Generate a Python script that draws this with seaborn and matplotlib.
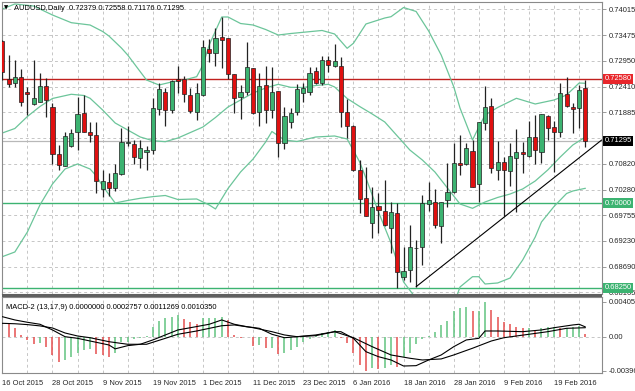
import numpy as np
import pandas as pd
import matplotlib
matplotlib.use("Agg")
import matplotlib.pyplot as plt
import matplotlib.transforms as mtransforms
from matplotlib.patches import Rectangle
import seaborn as sns

# ---- candle data (AUDUSD daily, bar index 0 = 16 Oct 2015) ----
OPEN = [0.73359, 0.72573, 0.72484, 0.72614, 0.72305, 0.72050, 0.72104, 0.72428, 0.72000, 0.71021,
        0.70779, 0.71187, 0.71483, 0.71863, 0.71483, 0.71415, 0.70291, 0.70449, 0.70312, 0.70601,
        0.71259, 0.71228, 0.70932, 0.71073, 0.71104, 0.71946, 0.72298, 0.71932, 0.72579, 0.72573,
        0.72242, 0.71897, 0.72242, 0.73187, 0.73104, 0.73436, 0.73415, 0.72676, 0.72194, 0.72310,
        0.72794, 0.71884, 0.72449, 0.71932, 0.72331, 0.71242, 0.71690, 0.71884, 0.72290, 0.72310,
        0.72745, 0.72484, 0.72966, 0.72842, 0.72842, 0.71897, 0.71607, 0.70691, 0.70105, 0.69588,
        0.69946, 0.69849, 0.69484, 0.69808, 0.68471, 0.68622, 0.69067, 0.69091, 0.69987, 0.70022,
        0.69532, 0.70070, 0.70242, 0.70829, 0.70815, 0.71083, 0.70401, 0.71657, 0.72015, 0.70691,
        0.70850, 0.70676, 0.70932, 0.71069, 0.70987, 0.71380, 0.71057, 0.71808, 0.71574, 0.71483,
        0.72256, 0.72000, 0.71967, 0.72379]
HIGH = [0.73380, 0.73070, 0.72966, 0.72780, 0.72408, 0.72966, 0.72703, 0.72593, 0.72070, 0.71208,
        0.71483, 0.71532, 0.72194, 0.72242, 0.71690, 0.71690, 0.70691, 0.70622, 0.70815, 0.71553,
        0.71601, 0.71311, 0.71311, 0.71187, 0.72174, 0.72484, 0.72381, 0.72552, 0.72842, 0.72635,
        0.72381, 0.72497, 0.73380, 0.73394, 0.73621, 0.73861, 0.73421, 0.72676, 0.72449, 0.73345,
        0.72800, 0.72690, 0.72842, 0.72815, 0.72335, 0.72000, 0.71967, 0.72469, 0.72484, 0.72827,
        0.72827, 0.73049, 0.73049, 0.73297, 0.73021, 0.72153, 0.71611, 0.70897, 0.70759, 0.70345,
        0.70221, 0.70484, 0.70035, 0.70015, 0.69104, 0.69552, 0.69242, 0.70173, 0.70449, 0.70291,
        0.70028, 0.70829, 0.71255, 0.71414, 0.71243, 0.71311, 0.71683, 0.72428, 0.72174, 0.71297,
        0.70966, 0.71255, 0.71532, 0.71276, 0.71711, 0.71828, 0.71849, 0.71828, 0.71711, 0.72484,
        0.72608, 0.72070, 0.72449, 0.72558]
LOW = [0.72552, 0.72408, 0.72408, 0.72015, 0.71828, 0.72036, 0.72098, 0.71793, 0.70808, 0.70691,
       0.70773, 0.71166, 0.71104, 0.71477, 0.71276, 0.70221, 0.70139, 0.70153, 0.70263, 0.70597,
       0.71187, 0.70815, 0.70726, 0.70691, 0.71015, 0.71828, 0.71601, 0.71863, 0.72277, 0.72104,
       0.71863, 0.71725, 0.72222, 0.72931, 0.72842, 0.72794, 0.72566, 0.71863, 0.71739, 0.72242,
       0.71849, 0.71601, 0.71656, 0.71760, 0.70965, 0.71118, 0.71553, 0.71828, 0.72104, 0.72242,
       0.72469, 0.72449, 0.72724, 0.72831, 0.71586, 0.71346, 0.70670, 0.69795, 0.69729, 0.69278,
       0.69380, 0.69532, 0.68967, 0.68243, 0.68415, 0.68380, 0.68276, 0.68725, 0.69849, 0.69484,
       0.69174, 0.69932, 0.70208, 0.70587, 0.70794, 0.70339, 0.70035, 0.71518, 0.70635, 0.70484,
       0.69739, 0.70359, 0.69828, 0.70622, 0.70966, 0.70815, 0.70829, 0.71311, 0.70655, 0.71367,
       0.72000, 0.71450, 0.71553, 0.71176]
CLOSE = [0.72718, 0.72470, 0.72608, 0.72098, 0.72263, 0.72187, 0.72434, 0.72139, 0.71015, 0.70784,
         0.71394, 0.71462, 0.71849, 0.71483, 0.71415, 0.70469, 0.70463, 0.70312, 0.70622, 0.71263,
         0.71270, 0.70965, 0.71139, 0.71104, 0.71967, 0.72360, 0.71932, 0.72538, 0.72538, 0.72263,
         0.71918, 0.72277, 0.73241, 0.73104, 0.73415, 0.73380, 0.72676, 0.72174, 0.72310, 0.72815,
         0.71863, 0.72428, 0.71932, 0.72298, 0.71242, 0.71815, 0.71877, 0.72360, 0.72381, 0.72703,
         0.72484, 0.72966, 0.72862, 0.72945, 0.71897, 0.71601, 0.70691, 0.70084, 0.69739, 0.69932,
         0.69863, 0.69553, 0.69828, 0.68587, 0.68608, 0.69091, 0.69077, 0.70002, 0.70070, 0.69553,
         0.70022, 0.70242, 0.70841, 0.70794, 0.71139, 0.70345, 0.71677, 0.71987, 0.70726, 0.70850,
         0.70691, 0.70987, 0.71069, 0.71015, 0.71380, 0.71104, 0.71849, 0.71553, 0.71483, 0.72277,
         0.72015, 0.71952, 0.72346, 0.71295]

# ---- bollinger bands, read at sample bars ----
UPPER_BARS = [0, 2, 5, 8, 11, 14, 16, 17, 19, 20, 22, 23, 25, 27, 29, 31, 32, 33, 35, 36,
              38, 40, 42, 44, 46, 49, 51, 53, 55, 56, 58, 61, 62, 64, 66, 68, 70, 72, 73, 75,
              76, 77, 79, 82, 85, 88, 90, 92, 93]
UPPER = [0.74021, 0.74125, 0.74083, 0.73897, 0.73738, 0.73690, 0.73556, 0.73463, 0.73214, 0.73069,
         0.72724, 0.72552, 0.72449, 0.72511, 0.72552, 0.72621, 0.72863, 0.73277, 0.73856, 0.73856,
         0.73721, 0.73690, 0.73597, 0.73483, 0.73514, 0.73552, 0.73577, 0.73504, 0.73208, 0.73312,
         0.73711, 0.73835, 0.73862, 0.74052, 0.73970, 0.73566, 0.73069, 0.72414, 0.71973, 0.71311,
         0.71580, 0.71828, 0.71983, 0.72174, 0.72056, 0.72139, 0.72242, 0.72490, 0.72484]
MID_BARS = [0, 2, 4, 6, 8, 11, 13, 14, 16, 18, 20, 22, 24, 26, 28, 30, 32, 34, 36, 38,
            40, 42, 44, 46, 48, 50, 52, 53, 55, 57, 59, 61, 63, 65, 67, 69, 71, 73, 75, 77,
            79, 81, 83, 85, 87, 89, 91, 93]
MID = [0.71456, 0.71549, 0.71797, 0.72004, 0.72170, 0.72257, 0.72232, 0.72174, 0.71932, 0.71663,
       0.71518, 0.71373, 0.71297, 0.71276, 0.71352, 0.71466, 0.71580, 0.71777, 0.71994, 0.72139,
       0.72283, 0.72387, 0.72463, 0.72401, 0.72397, 0.72439, 0.72463, 0.72408, 0.72170, 0.72004,
       0.71849, 0.71684, 0.71394, 0.71104, 0.70897, 0.70649, 0.70318, 0.69987, 0.69898, 0.70029,
       0.70122, 0.70194, 0.70298, 0.70463, 0.70691, 0.70960, 0.71208, 0.71373]
LOW_BARS = [0, 2, 4, 6, 8, 10, 12, 14, 15, 16, 18, 20, 22, 24, 26, 28, 31, 33, 34, 36,
            38, 40, 42, 43, 45, 47, 50, 53, 55, 57, 58, 60, 62, 64, 66, 68, 70, 72, 73, 75,
            76, 77, 79, 81, 83, 85, 86, 88, 90, 91, 93]
LOWER = [0.68897, 0.68994, 0.69408, 0.69967, 0.70401, 0.70711, 0.70815, 0.70711, 0.70566, 0.70359,
         0.70008, 0.70060, 0.70105, 0.70139, 0.70163, 0.70080, 0.70091, 0.69967, 0.69884, 0.70308,
         0.70649, 0.70918, 0.71270, 0.71487, 0.71311, 0.71280, 0.71373, 0.71394, 0.71332, 0.70856,
         0.70525, 0.69822, 0.69180, 0.68374, 0.68032, 0.67981, 0.67898, 0.67898, 0.68270, 0.68483,
         0.68483, 0.68332, 0.68353, 0.68456, 0.68829, 0.69304, 0.69615, 0.69936, 0.70204, 0.70256,
         0.70312]

# ---- MACD-2 (13,17,9) ----
HIST = [0.00259, 0.00143, 0.00097, 0.00020, -0.00039, -0.00085, -0.00077, -0.00116, -0.00212, -0.00290,
        -0.00270, -0.00232, -0.00193, -0.00155, -0.00143, -0.00205, -0.00212, -0.00232, -0.00193, -0.00066,
        -0.00058, -0.00027, -0.00010, 0.00005, 0.00116, 0.00182, 0.00220, 0.00232, 0.00251, 0.00210,
        0.00166, 0.00143, 0.00212, 0.00220, 0.00222, 0.00224, 0.00193, 0.00020, -0.00010, -0.00005,
        -0.00104, -0.00097, -0.00135, -0.00128, -0.00200, -0.00193, -0.00155, -0.00116, -0.00066, -0.00030,
        0.00010, 0.00039, 0.00050, 0.00077, -0.00010, -0.00077, -0.00193, -0.00328, -0.00396, -0.00367,
        -0.00375, -0.00359, -0.00328, -0.00348, -0.00232, -0.00193, -0.00089, -0.00027, 0.00010, 0.00058,
        0.00135, 0.00185, 0.00298, 0.00336, 0.00348, 0.00298, 0.00298, 0.00406, 0.00309, 0.00232,
        0.00174, 0.00143, 0.00116, 0.00097, 0.00097, 0.00077, 0.00104, 0.00116, 0.00116, 0.00097,
        0.00104, 0.00116, 0.00127, 0.00028]
MACD_BARS = [0, 2, 4, 6, 8, 10, 12, 14, 17, 18, 20, 22, 24, 26, 28, 30, 33, 35, 37, 39,
             41, 43, 45, 47, 50, 53, 54, 56, 58, 60, 62, 64, 66, 68, 70, 72, 74, 76, 77, 79,
             83, 86, 88, 91, 92, 93]
MACD = [0.00232, 0.00194, 0.00167, 0.00144, 0.00078, 0.0, -0.00019, -0.0005, -0.00096, -0.00141,
        -0.00104, -0.00088, -0.00038, 0.0002, 0.00078, 0.00104, 0.00144, 0.00194, 0.00144, 0.00116,
        0.00097, 0.00028, -0.00012, 0.0, 0.0002, 0.00058, 0.00058, -0.00019, -0.00174, -0.00232,
        -0.0027, -0.0034, -0.00336, -0.0027, -0.00212, -0.00116, -0.00038, -0.00019, 0.00066, 0.00066,
        0.00058, 0.00078, 0.00104, 0.00136, 0.00144, 0.00113]
SIG_BARS = [0, 2, 4, 6, 8, 10, 12, 14, 17, 20, 23, 26, 28, 31, 35, 37, 40, 43, 45, 47,
            50, 53, 56, 59, 62, 65, 67, 70, 72, 75, 78, 80, 84, 87, 90, 93]
SIGNAL = [0.00155, 0.00150, 0.00140, 0.00125, 0.00101, 0.00043, 0.00008, -0.00012, -0.00058, -0.00088,
          -0.00088, -0.00019, 0.00028, 0.00066, 0.00127, 0.00136, 0.00104, 0.00058, 0.0002, 0.0,
          0.00012, 0.00058, -0.00012, -0.00116, -0.00212, -0.0025, -0.0027, -0.00258, -0.00212, -0.00134,
          -0.0005, -0.00012, 0.00028, 0.00058, 0.00097, 0.00104]

# ---- axis labels / levels ----
DATE_BARS = [0, 8, 16, 24, 32, 40, 48, 56, 64, 72, 80, 88]
DATE_LABELS = ["16 Oct 2015", "28 Oct 2015", "9 Nov 2015", "19 Nov 2015", "1 Dec 2015", "11 Dec 2015",
               "23 Dec 2015", "6 Jan 2016", "18 Jan 2016", "28 Jan 2016", "9 Feb 2016", "19 Feb 2016"]
PRICE_TICKS = [0.74015, 0.73475, 0.72950, 0.72410, 0.71885, 0.71345, 0.70820, 0.70280,
               0.69755, 0.69230, 0.68690, 0.68165]
HIDDEN_TICK = 0.71345   # sits under the last-price box
RESIST = 0.72580
SUPPORTS = [0.70000, 0.68250]
LAST_PRICE = 0.71295
TREND_BARS = [66, 95.6]
TREND_PRICES = [0.68276, 0.71311]
MACD_TICKS = [0.004056, 0.0, -0.003965]
MACD_TICK_LABELS = ["0.004056", "0.00", "-0.003965"]

UP_COL = "#3cb371"
DOWN_COL = "#e01010"
BAND_COL = "#6cc59a"
GRID_COL = "#c6c6c6"
FRAME_COL = "#8a8a8a"
FS = 5.4

sns.set_style("white")
plt.rcParams["font.family"] = ["Liberation Sans", "DejaVu Sans"]

fig = plt.figure(figsize=(6.35, 3.91), dpi=100)
ax = fig.add_axes([2 / 635, 1 - 294 / 391, 600 / 635, 292 / 391])
ax2 = fig.add_axes([2 / 635, 1 - 373 / 391, 600 / 635, 76 / 391])

XLIM = (-0.05, 95.65)

# ---------------- main price panel ----------------
df = pd.DataFrame({"bar": np.arange(len(OPEN)), "open": OPEN, "high": HIGH,
                   "low": LOW, "close": CLOSE})
df["up"] = df["close"] >= df["open"]
body_lo = df[["open", "close"]].min(axis=1)
body_h = (df["close"] - df["open"]).abs().clip(lower=0.00003)

for gb in range(4, 96, 4):
    ax.axvline(gb, color=GRID_COL, lw=0.7, ls=(0, (3, 3)), zorder=0)
for t in PRICE_TICKS:
    ax.axhline(t, color=GRID_COL, lw=0.7, ls=(0, (3, 3)), zorder=0)

ax.axhline(LAST_PRICE, color="#b8b8b8", lw=0.9, zorder=1)
ax.axhline(RESIST, color="#c0201e", lw=1.0, zorder=1)
for s in SUPPORTS:
    ax.axhline(s, color=UP_COL, lw=1.0, zorder=1)

for xs, ys in [(UPPER_BARS, UPPER), (MID_BARS, MID), (LOW_BARS, LOWER)]:
    sns.lineplot(x=xs, y=ys, ax=ax, color=BAND_COL, lw=0.9, zorder=2)

ax.plot(TREND_BARS, TREND_PRICES, color="black", lw=0.8, zorder=5)

ax.vlines(df["bar"], df["low"], df["high"], color="#222222", lw=0.9, zorder=3)
ax.bar(df["bar"], body_h, bottom=body_lo, width=0.66,
       color=np.where(df["up"], UP_COL, DOWN_COL), edgecolor="#202020",
       linewidth=0.5, zorder=4)

ax.set_xlim(*XLIM)
ax.set_ylim(0.68125, 0.74166)
ax.yaxis.tick_right()
ax.set_yticks(PRICE_TICKS)
ax.set_yticklabels(["" if t == HIDDEN_TICK else f"{t:.5f}" for t in PRICE_TICKS])
ax.tick_params(axis="y", length=3, width=0.6, color=FRAME_COL, pad=2, labelsize=FS)
ax.tick_params(axis="x", length=0, labelbottom=False)
ax.set_xlabel("")
ax.set_ylabel("")

ytrans = mtransforms.blended_transform_factory(ax.transAxes, ax.transData)
for val, col in [(RESIST, "#e8262b"), (LAST_PRICE, "#000000"),
                 (SUPPORTS[0], UP_COL), (SUPPORTS[1], UP_COL)]:
    ax.text(1.004, val, f"{val:.5f}", transform=ytrans, ha="left", va="center",
            fontsize=FS, color="white", clip_on=False, zorder=10,
            bbox=dict(boxstyle="square,pad=0.2", fc=col, ec="none"))

ax.text(0.004, 0.979, "\u25bc", transform=ax.transAxes, fontsize=4, color="black",
        ha="left", va="center", family=["DejaVu Sans"])
ax.text(0.02, 0.979, "AUDUSD,Daily  0.72379 0.72558 0.71176 0.71295", transform=ax.transAxes,
        fontsize=FS, color="black", ha="left", va="center")

# ---------------- MACD panel ----------------
for gb in range(4, 96, 4):
    ax2.axvline(gb, color=GRID_COL, lw=0.7, ls=(0, (3, 3)), zorder=0)
ax2.axhline(0, color=GRID_COL, lw=0.7, ls=(0, (3, 3)), zorder=0)

hist = pd.Series(HIST)
hist_up = hist.diff().fillna(1) >= 0
ax2.vlines(np.arange(len(HIST)), 0, HIST, colors=np.where(hist_up, "#62c480", "#e5504f"),
           lw=1.1, zorder=2)
sns.lineplot(x=MACD_BARS, y=MACD, ax=ax2, color="black", lw=0.8, zorder=3)
sns.lineplot(x=SIG_BARS, y=SIGNAL, ax=ax2, color="black", lw=0.8, zorder=3)

ax2.set_xlim(*XLIM)
ax2.set_ylim(-0.00421, 0.0046)
ax2.yaxis.tick_right()
ax2.set_yticks(MACD_TICKS)
ax2.set_yticklabels(MACD_TICK_LABELS)
ax2.tick_params(axis="y", length=3, width=0.6, color=FRAME_COL, pad=2, labelsize=FS)
ax2.set_xticks(DATE_BARS)
ax2.set_xticklabels(DATE_LABELS, ha="left")
ax2.tick_params(axis="x", length=3, width=0.6, color=FRAME_COL, pad=2, labelsize=FS)
ax2.set_xlabel("")
ax2.set_ylabel("")
ax2.text(0.006, 0.86, "MACD-2 (13,17,9) 0.0000000 0.0002757 0.0011269 0.0010350",
         transform=ax2.transAxes, fontsize=FS, color="black", ha="left", va="center")

for a in (ax, ax2):
    for sp in a.spines.values():
        sp.set_color(FRAME_COL)
        sp.set_linewidth(0.8)

# separator bar between the two windows
fig.patches.append(Rectangle((2 / 635, 1 - 297 / 391), 600 / 635, 3 / 391,
                             transform=fig.transFigure, fc="#606060", ec="none"))

fig.savefig("out.png", dpi=100)
